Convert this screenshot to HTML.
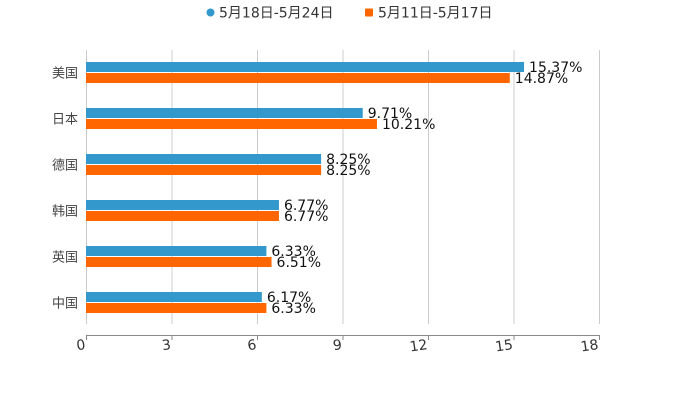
<!DOCTYPE html>
<html><head><meta charset="utf-8"><style>
body{margin:0;background:#fff;}
svg{display:block;font-family:"DejaVu Sans","Liberation Sans","Noto Sans CJK SC",sans-serif;}
</style></head><body>
<svg id="c" width="700" height="400">
<g id="legend">
<g><circle cx="210.5" cy="12.5" r="4" fill="#3399cc"/><text x="219" y="17.5" font-size="14" fill="#333">5月18日-5月24日</text></g>
<g><rect x="365" y="8.5" width="8" height="8" rx="1" fill="#ff6600"/><text x="378" y="17.5" font-size="14" fill="#333">5月11日-5月17日</text></g>
</g>
</svg>
<script>
const categories=["美国","日本","德国","韩国","英国","中国"];
const seriesA=[15.37,9.71,8.25,6.77,6.33,6.17];
const seriesB=[14.87,10.21,8.25,6.77,6.51,6.33];
const ticks=[0,3,6,9,12,15,18];
const svg=document.getElementById('c');const NS='http://www.w3.org/2000/svg';
const x0=86,x1=599,xmax=18;
const X=v=>x0+v/xmax*(x1-x0);
const Y=i=>72.5+i*46;
function mk(t,a,p){const e=document.createElementNS(NS,t);for(const k in a)e.setAttribute(k,a[k]);(p||svg).appendChild(e);return e;}
ticks.forEach(t=>{
 const g=mk('line',{x1:X(t)+.5,x2:X(t)+.5,y1:50,y2:324,stroke:'#ccc','stroke-width':1});
 
 
 const tk=mk('line',{x1:X(t)+.5,x2:X(t)+.5,y1:335,y2:340,stroke:'#888'});
 
 
 const l=mk('text',{x:X(t),y:349,'font-size':14,fill:'#333','text-anchor':'end',transform:`rotate(-8 ${X(t)} 349)`});
 l.textContent=t;
 
 
});
const ax=mk('line',{x1:x0,x2:x1+1,y1:335.5,y2:335.5,stroke:'#888'});


categories.forEach((c,i)=>{
 const cy=Y(i);
 const cl=mk('text',{x:78,y:cy+5,'font-size':13,fill:'#444','text-anchor':'end'});
 cl.textContent=c;
 
 
 [[seriesA[i],'#3399cc',cy-10.5],[seriesB[i],'#ff6600',cy+0.5]].forEach(([v,col,y],s)=>{
  const r=mk('rect',{x:x0,y:y,width:X(v)-x0,height:10,fill:col});
  
  
  const t=mk('text',{x:X(v)+5,y:y+10,'font-size':14,fill:'#111'});
  t.textContent=v.toFixed(2)+'%';
  
  
 });
});
</script>
</body></html>
